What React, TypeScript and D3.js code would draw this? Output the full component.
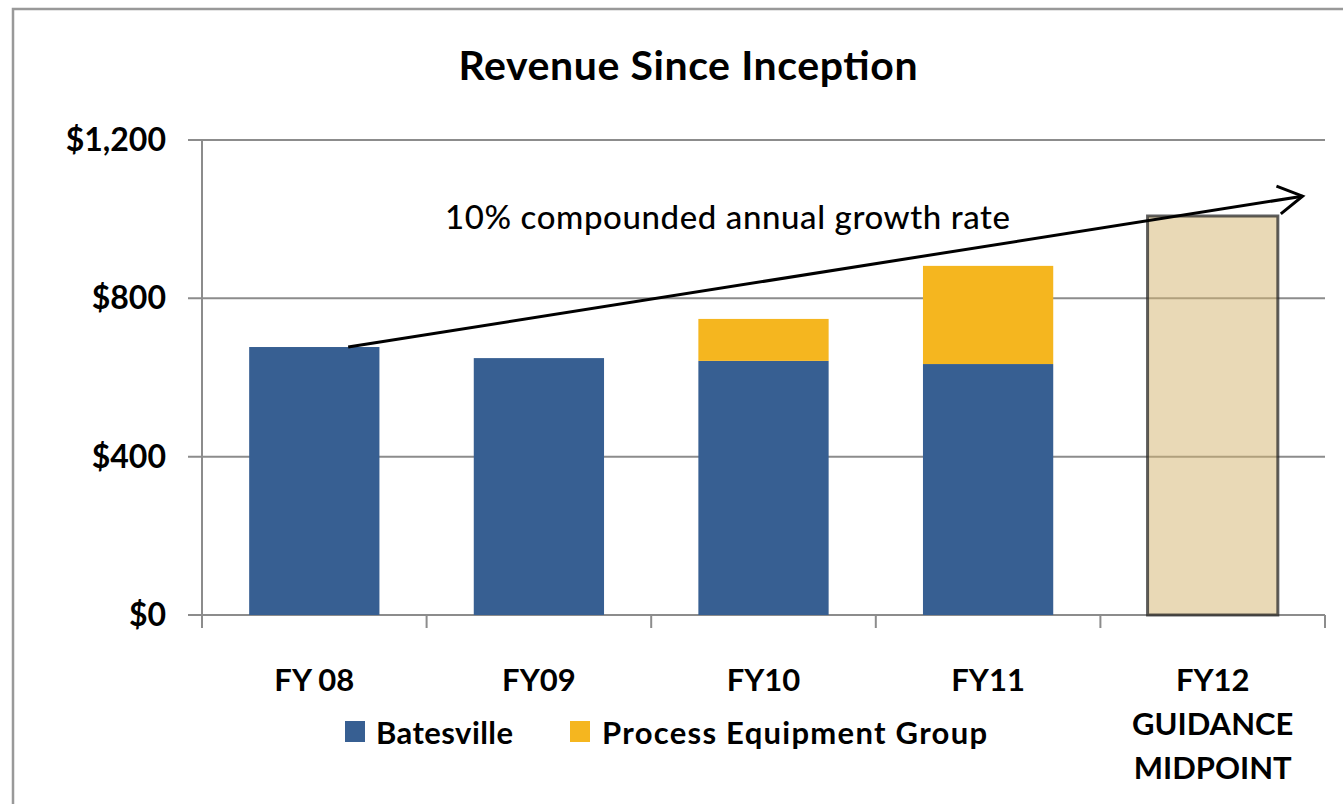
import React from "react";
import * as d3 from "d3";

const categories = ["FY 08", "FY09", "FY10", "FY11", "FY12"];
const batesville = [677, 649, 642, 634, 0];
const processEquipment = [0, 0, 106, 248, 0];
const guidance = [0, 0, 0, 0, 1008];
const yTicks = [0, 400, 800, 1200];
const fy12Lines = ["FY12", "GUIDANCE", "MIDPOINT"];
const arrowFromValue = 677;
const arrowToValue = 1058;

const W = 1343;
const H = 804;
const FONT = "Lato, 'Open Sans', sans-serif";

export default function App() {
  const x = d3
    .scaleBand<string>()
    .domain(categories)
    .range([202, 1325])
    .paddingInner(0.42)
    .paddingOuter(0.21);
  const y = d3.scaleLinear().domain([0, 1200]).range([615, 140]);
  const bw = x.bandwidth();
  const fmt = (v: number) => "$" + d3.format(",")(v);

  const x0 = (x("FY 08") as number) + bw * 0.76;
  const y0 = y(arrowFromValue);
  const x1 = (x("FY12") as number) + bw * 1.19;
  const y1 = y(arrowToValue);
  const ang = Math.atan2(y0 - y1, x0 - x1);
  const L = 28;
  const a1 = ang + (30 * Math.PI) / 180;
  const a2 = ang - (30 * Math.PI) / 180;
  const head = `M${x1 + L * Math.cos(a1)},${y1 + L * Math.sin(a1)} L${x1},${y1} L${x1 + L * Math.cos(a2)},${y1 + L * Math.sin(a2)}`;

  const boundaries = categories.map((c) => (x(c) as number) - (x.step() - bw) / 2).concat([1325]);

  return (
    <svg
      width={W}
      height={H}
      style={{ position: "absolute", left: 0, top: 0, background: "#fff" }}
      fontFamily={FONT}
    >
      <rect x={13} y={9} width={W + 20} height={H + 20} fill="#fff" stroke="#999" strokeWidth={2.5} />
      <text x={688} y={80} textAnchor="middle" fontSize={41} fontWeight={700} textLength={459} fill="#000">
        Revenue Since Inception
      </text>

      {yTicks.map((t) => (
        <g key={t}>
          <line x1={188} x2={1325} y1={y(t)} y2={y(t)} stroke="#8c8c8c" strokeWidth={2} />
          <text x={166} y={y(t) + 11} textAnchor="end" fontSize={32} fontWeight={700} fill="#000">
            {fmt(t)}
          </text>
        </g>
      ))}

      {categories.map((c, i) => (
        <g key={c}>
          {batesville[i] > 0 && (
            <rect x={x(c)} y={y(batesville[i])} width={bw} height={y(0) - y(batesville[i])} fill="#375F92" />
          )}
          {processEquipment[i] > 0 && (
            <rect
              x={x(c)}
              y={y(batesville[i] + processEquipment[i])}
              width={bw}
              height={y(batesville[i]) - y(batesville[i] + processEquipment[i])}
              fill="#F5B61F"
            />
          )}
          {guidance[i] > 0 && (
            <rect
              x={x(c)}
              y={y(guidance[i])}
              width={bw}
              height={y(0) - y(guidance[i])}
              fill="rgba(212,180,110,0.5)"
              stroke="rgba(40,40,40,0.75)"
              strokeWidth={3}
            />
          )}
        </g>
      ))}

      <line x1={202} x2={202} y1={140} y2={628} stroke="#8c8c8c" strokeWidth={2} />
      {boundaries.map((b, i) => (
        <line key={i} x1={b} x2={b} y1={615} y2={628} stroke="#8c8c8c" strokeWidth={2} />
      ))}

      {categories.map((c) =>
        c === "FY12" ? (
          <text key={c} textAnchor="middle" fontSize={31} fontWeight={700} fill="#000">
            {fy12Lines.map((l, j) => (
              <tspan key={l} x={(x(c) as number) + bw / 2} y={691 + j * 44}>
                {l}
              </tspan>
            ))}
          </text>
        ) : (
          <text key={c} x={(x(c) as number) + bw / 2} y={691} textAnchor="middle" fontSize={31} fontWeight={700} fill="#000">
            {c}
          </text>
        )
      )}

      <line x1={x0} y1={y0} x2={x1} y2={y1} stroke="#000" strokeWidth={3} />
      <path d={head} fill="none" stroke="#000" strokeWidth={3} />
      <text x={445} y={229} fontSize={33} fontWeight={500} textLength={565} fill="#000">
        10% compounded annual growth rate
      </text>

      <rect x={345} y={721} width={20} height={21} fill="#375F92" />
      <text x={376} y={744} fontSize={31} fontWeight={700} textLength={137} fill="#000">
        Batesville
      </text>
      <rect x={570} y={721} width={20} height={21} fill="#F5B61F" />
      <text x={602} y={744} fontSize={31} fontWeight={700} textLength={385} fill="#000">
        Process Equipment Group
      </text>
    </svg>
  );
}
